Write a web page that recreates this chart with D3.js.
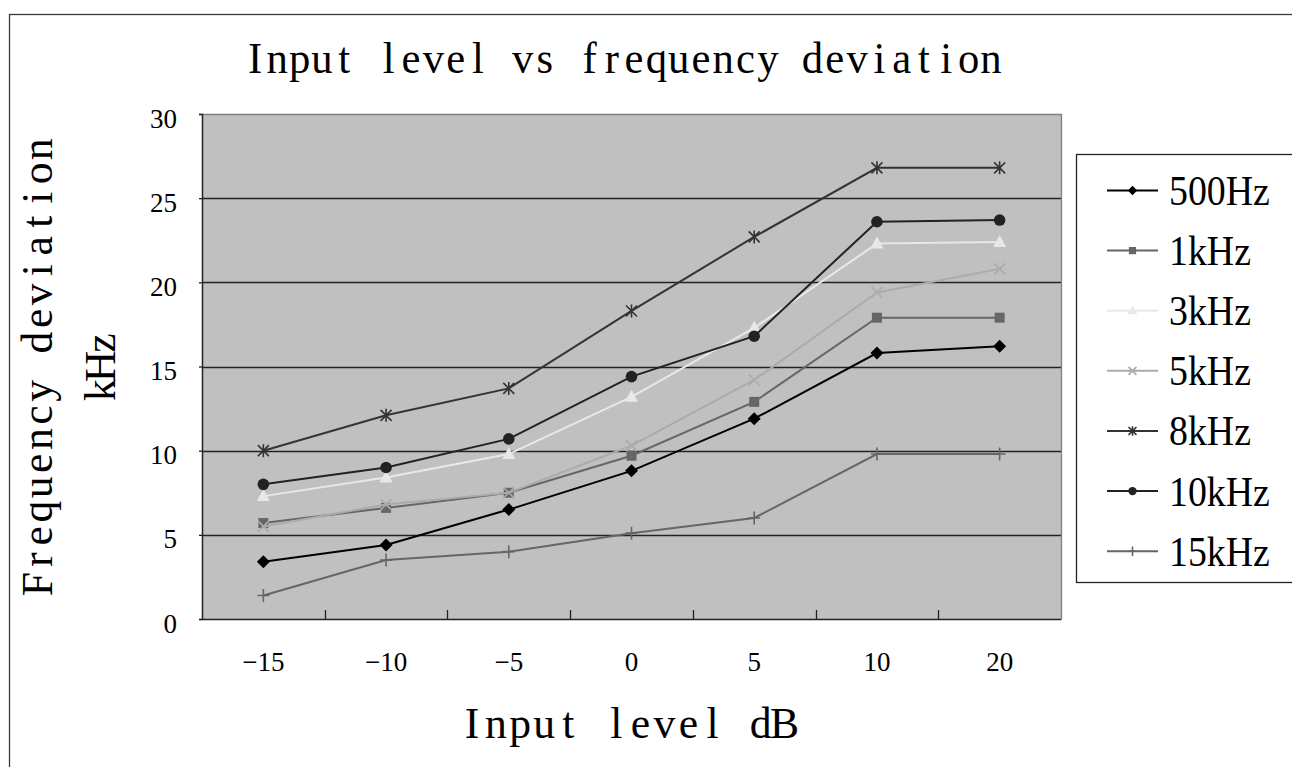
<!DOCTYPE html>
<html>
<head>
<meta charset="utf-8">
<script src="https://cdn.jsdelivr.net/npm/d3@7"></script>
<style>
  html, body { margin: 0; padding: 0; background: #fff; overflow: hidden; }
  svg { display: block; }
</style>
</head>
<body>
<svg id="chart" width="1292" height="767"></svg>
<script>
// Input level categories (dB) and their printed labels
const categories = ["-15", "-10", "-5", "0", "5", "10", "20"];
const xTickLabels = ["\u221215", "\u221210", "\u22125", "0", "5", "10", "20"];
const yTickValues = [0, 5, 10, 15, 20, 25, 30];

// Frequency deviation (kHz) for each test tone
const seriesNames = ["500Hz", "1kHz", "3kHz", "5kHz", "8kHz", "10kHz", "15kHz"];
const dev500Hz = [3.4, 4.4, 6.5, 8.8, 11.9, 15.8, 16.2];
const dev1kHz  = [5.7, 6.6, 7.5, 9.7, 12.9, 17.9, 17.9];
const dev3kHz  = [7.3, 8.4, 9.8, 13.2, 17.3, 22.3, 22.4];
const dev5kHz  = [5.5, 6.8, 7.5, 10.3, 14.2, 19.4, 20.8];
const dev8kHz  = [10.0, 12.1, 13.7, 18.3, 22.7, 26.8, 26.8];
const dev10kHz = [8.0, 9.0, 10.7, 14.4, 16.8, 23.6, 23.7];
const dev15kHz = [1.4, 3.5, 4.0, 5.1, 6.0, 9.8, 9.8];
const seriesValues = [dev500Hz, dev1kHz, dev3kHz, dev5kHz, dev8kHz, dev10kHz, dev15kHz];

// Line colour and marker shape per series
const seriesColors = ["#000000", "#666666", "#e8e8e8", "#ababab", "#333333", "#222222", "#666666"];
const seriesMarkers = ["diamond", "square", "triangle", "cross", "star", "circle", "plus"];

const svg = d3.select("#chart");
const plot = { left: 202, right: 1061, top: 114, bottom: 619 };

const x = d3.scaleBand().domain(categories).range([plot.left, plot.right]);
const y = d3.scaleLinear().domain([0, 30]).range([plot.bottom, plot.top]);
const cx = c => x(c) + x.bandwidth() / 2;

// Fixed-pitch serif text: every character is centred in its own equal-width cell.
// (ox, oy) is the baseline centre of the first cell; the frame may be rotated.
function pitchText(parent, str, ox, oy, advance, size, squeeze, angle) {
  const t = parent.append("text")
    .attr("transform", `translate(${ox},${oy}) rotate(${angle || 0}) scale(${squeeze},1)`)
    .attr("font-family", "Liberation Serif, serif")
    .attr("font-size", size)
    .attr("text-anchor", "middle")
    .attr("fill", "#000")
    .text(str);
  t.attr("x", Array.from(str, (c, i) => (i * advance / squeeze).toFixed(2)).join(" "));
  return t;
}

// Outer chart frame
svg.append("rect")
  .attr("x", 9.5).attr("y", 14.5)
  .attr("width", 1400).attr("height", 900)
  .attr("fill", "#fff").attr("stroke", "#3a3a3a").attr("stroke-width", 1.3);

// Title
pitchText(svg, "Input level vs frequency deviation", 255, 73, 22.3, 44, 0.97, 0);

// Plot area background
svg.append("rect")
  .attr("x", plot.left).attr("y", plot.top)
  .attr("width", plot.right - plot.left).attr("height", plot.bottom - plot.top)
  .attr("fill", "#c0c0c0");

// Horizontal gridlines
svg.append("g").selectAll("line")
  .data(yTickValues.filter(v => v > 0 && v < 30))
  .join("line")
  .attr("x1", plot.left).attr("x2", plot.right)
  .attr("y1", d => Math.round(y(d)) + 0.5).attr("y2", d => Math.round(y(d)) + 0.5)
  .attr("stroke", "#222").attr("stroke-width", 1.3);

// Top and right plot border
svg.append("path")
  .attr("d", `M${plot.left},${plot.top + 0.5}H${plot.right + 0.5}V${plot.bottom}`)
  .attr("fill", "none").attr("stroke", "#808080").attr("stroke-width", 1.3);

// Y axis
const yAxis = svg.append("g")
  .attr("transform", `translate(${plot.left},0)`)
  .call(d3.axisLeft(y).tickValues(yTickValues).tickSize(3).tickPadding(22));
yAxis.select(".domain").attr("stroke", "#222").attr("stroke-width", 1.5);
yAxis.selectAll(".tick line").attr("stroke", "#222").attr("stroke-width", 1.3);
yAxis.selectAll(".tick text")
  .attr("dy", "13px")
  .attr("font-family", "Liberation Serif, serif")
  .attr("font-size", 27)
  .attr("fill", "#000");

// X axis
const xAxis = svg.append("g")
  .attr("transform", `translate(0,${plot.bottom})`)
  .call(d3.axisBottom(x).tickSize(0).tickFormat((d, i) => xTickLabels[i]));
xAxis.select(".domain").attr("stroke", "#222").attr("stroke-width", 1.5);
xAxis.selectAll(".tick text")
  .attr("y", 51.5).attr("dy", 0)
  .attr("font-family", "Liberation Serif, serif")
  .attr("font-size", 27)
  .attr("fill", "#000");

// Tick marks between categories, pointing into the plot
svg.append("g").selectAll("line")
  .data(categories.slice(1))
  .join("line")
  .attr("x1", d => Math.round(x(d)) + 0.5).attr("x2", d => Math.round(x(d)) + 0.5)
  .attr("y1", plot.bottom).attr("y2", plot.bottom - 9)
  .attr("stroke", "#222").attr("stroke-width", 1.3);

// Axis titles
pitchText(svg, "Input level dB", 472, 738, 24.05, 45, 0.97, 0);
pitchText(svg, "Frequency deviation", 52, 584, 24.15, 45, 0.97, -90);
pitchText(svg, "kHz", 115, 390, 23.5, 45, 0.97, -90);

// Marker drawing
function drawMarker(g, type, color, k) {
  const r = 6.5 * k;
  switch (type) {
    case "diamond":
      g.append("path").attr("d", `M0,${-r}L${r},0L0,${r}L${-r},0Z`).attr("fill", color);
      break;
    case "square":
      g.append("rect").attr("x", -5 * k).attr("y", -5 * k)
        .attr("width", 10 * k).attr("height", 10 * k).attr("fill", color);
      break;
    case "triangle":
      g.append("path").attr("d", `M0,${-7 * k}L${6.5 * k},${5 * k}L${-6.5 * k},${5 * k}Z`).attr("fill", color);
      break;
    case "cross":
      g.append("path").attr("d", `M${-5.5 * k},${-5.5 * k}L${5.5 * k},${5.5 * k}M${-5.5 * k},${5.5 * k}L${5.5 * k},${-5.5 * k}`)
        .attr("stroke", color).attr("stroke-width", 1.6).attr("fill", "none");
      break;
    case "star":
      g.append("path").attr("d", `M${-5.5 * k},${-5.5 * k}L${5.5 * k},${5.5 * k}M${-5.5 * k},${5.5 * k}L${5.5 * k},${-5.5 * k}M0,${-6.5 * k}L0,${6.5 * k}`)
        .attr("stroke", color).attr("stroke-width", 1.6).attr("fill", "none");
      break;
    case "circle":
      g.append("circle").attr("r", 5.8 * k).attr("fill", color);
      break;
    case "plus":
      g.append("path").attr("d", `M${-6 * k},0L${6 * k},0M0,${-6.5 * k}L0,${6.5 * k}`)
        .attr("stroke", color).attr("stroke-width", 1.6).attr("fill", "none");
      break;
  }
}

// Series lines and markers
const line = d3.line().x((d, i) => cx(categories[i])).y(d => y(d));
seriesNames.forEach((name, s) => {
  const g = svg.append("g");
  g.append("path")
    .datum(seriesValues[s])
    .attr("d", line)
    .attr("fill", "none")
    .attr("stroke", seriesColors[s])
    .attr("stroke-width", 2);
  seriesValues[s].forEach((v, i) => {
    const m = g.append("g").attr("transform", `translate(${cx(categories[i])},${y(v)})`);
    drawMarker(m, seriesMarkers[s], seriesColors[s], 1);
  });
});

// Legend
const legend = svg.append("g");
legend.append("rect")
  .attr("x", 1076.5).attr("y", 154.5)
  .attr("width", 400).attr("height", 428)
  .attr("fill", "#fff").attr("stroke", "#222").attr("stroke-width", 1.3);

const legendRow = d3.scaleLinear().domain([0, 6]).range([190, 550.7]);
seriesNames.forEach((name, s) => {
  const row = legend.append("g").attr("transform", `translate(0,${legendRow(s)})`);
  row.append("line")
    .attr("x1", 1107).attr("x2", 1158).attr("y1", 0.5).attr("y2", 0.5)
    .attr("stroke", seriesColors[s]).attr("stroke-width", 2);
  const m = row.append("g").attr("transform", "translate(1132.5,0.5)");
  drawMarker(m, seriesMarkers[s], seriesColors[s], 0.72);
  const t = row.append("text")
    .attr("x", 1169).attr("y", 15)
    .attr("font-family", "Liberation Serif, serif")
    .attr("font-size", 43)
    .attr("fill", "#000")
    .text(name);
  const w = t.node().getComputedTextLength();
  t.attr("textLength", w * 0.88).attr("lengthAdjust", "spacingAndGlyphs");
});
</script>
</body>
</html>
